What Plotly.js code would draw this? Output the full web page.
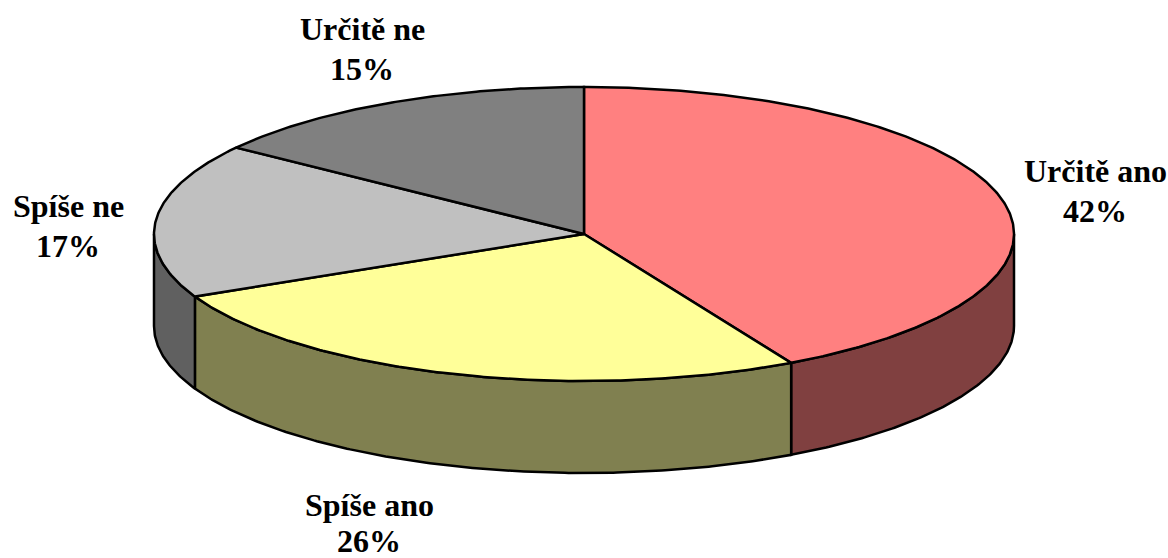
<!DOCTYPE html>
<html>
<head>
<meta charset="utf-8">
<script src="https://cdn.plot.ly/plotly-3.0.1.min.js"></script>
<style>html,body{margin:0;padding:0;background:#fff;overflow:hidden}</style>
</head>
<body>
<div id="chart" style="width:1168px;height:558px"></div>
<script>
const categories = ["Určitě ano", "Spíše ano", "Spíše ne", "Určitě ne"];
const shares = [42, 26, 17, 15];
const topColors = ["#FF8080", "#FFFF99", "#C0C0C0", "#808080"];
const wallColors = ["#804040", "#808050", "#606060", "#404040"];
const labelX = [1095, 369, 68, 362];
const nameY = [171, 505, 206, 29];
const shareY = [211, 541, 246, 69];

const CX = 584, CY = 234, RX = 430, RY = 147, DEPTH = 92;
const LINE = {color: "#000000", width: 2.5};

const total = shares.reduce((a, b) => a + b, 0);
function px(deg) { return CX + RX * Math.sin(deg * Math.PI / 180); }
function py(deg, drop) { return CY - RY * Math.cos(deg * Math.PI / 180) + drop; }
function arc(from, to, drop) {
  const n = Math.max(2, Math.ceil(Math.abs(to - from) * 2));
  const xs = [], ys = [];
  for (let i = 0; i <= n; i++) {
    const d = from + (to - from) * i / n;
    xs.push(px(d)); ys.push(py(d, drop));
  }
  return {xs, ys};
}
function poly(xs, ys, fill) {
  return {type: "scatter", mode: "lines", x: xs, y: ys, fill: "toself",
          fillcolor: fill, line: LINE, hoverinfo: "skip", showlegend: false};
}

const walls = [], tops = [];
let start = 0;
shares.forEach((v, i) => {
  const end = start + v / total * 360;
  const from = Math.max(start, 90), to = Math.min(end, 270);
  if (to > from) {
    const upper = arc(from, to, 0), lower = arc(to, from, DEPTH);
    walls.push(poly(upper.xs.concat(lower.xs, [upper.xs[0]]),
                    upper.ys.concat(lower.ys, [upper.ys[0]]), wallColors[i]));
  }
  const rim = arc(start, end, 0);
  tops.push(poly([CX].concat(rim.xs, [CX]), [CY].concat(rim.ys, [CY]), topColors[i]));
  start = end;
});

function label(text, x, y) {
  return {x: x, y: y, xref: "x", yref: "y", text: "<b>" + text + "</b>",
    showarrow: false, align: "center", xanchor: "center", yanchor: "middle",
    font: {family: "Liberation Serif, Times New Roman, serif", size: 32, color: "#000000"}};
}
const annotations = [];
categories.forEach((c, i) => {
  annotations.push(label(c, labelX[i], nameY[i]));
  annotations.push(label(shares[i] + "%", labelX[i], shareY[i]));
});

const hidden = {visible: false, fixedrange: true, showgrid: false, zeroline: false};
Plotly.newPlot("chart", walls.concat(tops), {
  width: 1168, height: 558,
  margin: {l: 0, r: 0, t: 0, b: 0},
  paper_bgcolor: "#FFFFFF", plot_bgcolor: "#FFFFFF",
  showlegend: false,
  xaxis: Object.assign({range: [0, 1168]}, hidden),
  yaxis: Object.assign({range: [558, 0]}, hidden),
  annotations: annotations
}, {displayModeBar: false, staticPlot: true});
</script>
</body>
</html>
